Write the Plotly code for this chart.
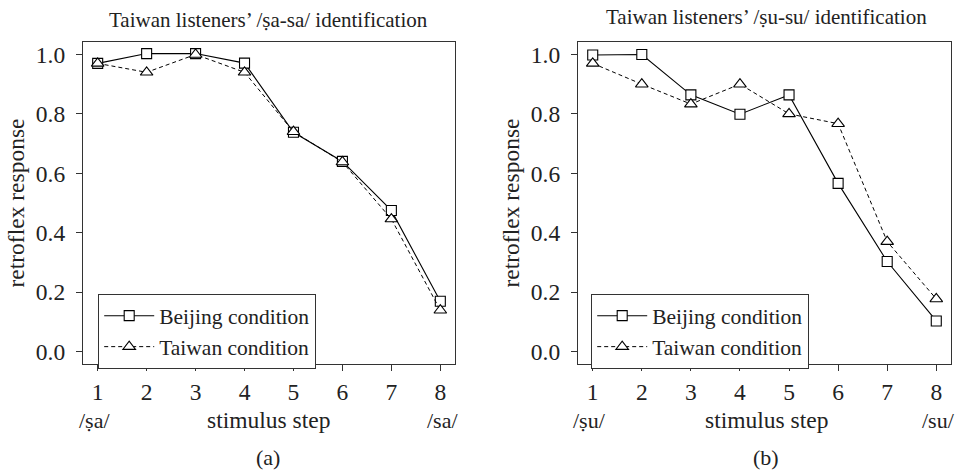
import plotly.graph_objects as go

steps = [1, 2, 3, 4, 5, 6, 7, 8]
tick_labels = ["1", "2", "3", "4", "5", "6", "7", "8"]

sa_beijing = [0.970, 1.003, 1.003, 0.971, 0.738, 0.640, 0.475, 0.169]
sa_taiwan = [0.970, 0.940, 1.000, 0.940, 0.740, 0.638, 0.446, 0.139]

su_beijing = [0.998, 1.000, 0.864, 0.799, 0.864, 0.566, 0.303, 0.103]
su_taiwan = [0.970, 0.900, 0.833, 0.900, 0.800, 0.767, 0.370, 0.177]

titles = ["Taiwan listeners’ /ṣa-sa/ identification",
          "Taiwan listeners’ /ṣu-su/ identification"]
end_labels = [("/ṣa/", "/sa/"), ("/ṣu/", "/su/")]
panel_labels = ["(a)", "(b)"]

FONT = "Liberation Serif"
W, H = 958, 470
INK = "#222"

fig = go.Figure()

def add_panel(idx, beijing, taiwan):
    xa = "x" if idx == 0 else "x2"
    ya = "y" if idx == 0 else "y2"
    leg = "legend" if idx == 0 else "legend2"
    fig.add_trace(go.Scatter(
        x=steps, y=beijing, xaxis=xa, yaxis=ya, name="Beijing condition",
        mode="lines+markers", legend=leg, legendgroup=f"b{idx}",
        line=dict(color="black", width=1.1),
        marker=dict(symbol="square", size=10, color="white",
                    line=dict(color="black", width=1.1))))
    fig.add_trace(go.Scatter(
        x=steps, y=taiwan, xaxis=xa, yaxis=ya, name="Taiwan condition",
        mode="lines+markers", legend=leg, legendgroup=f"t{idx}",
        line=dict(color="black", width=1.0, dash="4px,3px"),
        marker=dict(symbol="triangle-up", size=11, color="white",
                    line=dict(color="black", width=1.1))))

add_panel(0, sa_beijing, sa_taiwan)
add_panel(1, su_beijing, su_taiwan)

ytop = 1 - 42 / H
ybot = 1 - 364 / H
dom_left = [83 / W, 455 / W]
dom_right = [578 / W, 951 / W]

TICKFONT = dict(family=FONT, size=23.5, color=INK)

axis_common = dict(showline=True, linecolor="#333", linewidth=1.3, mirror=True,
                   ticks="outside", ticklen=6, tickwidth=1.1, tickcolor="#333",
                   showgrid=False, zeroline=False)

xaxis_common = dict(axis_common, range=[0.7, 8.3], tickvals=steps, ticktext=tick_labels,
                    ticklabelstandoff=1, tickfont=TICKFONT)
yaxis_common = dict(axis_common, range=[-0.042, 1.042], tickvals=[0, 0.2, 0.4, 0.6, 0.8, 1.0],
                    ticktext=["0.0", "0.2", "0.4", "0.6", "0.8", "1.0"],
                    ticklabelstandoff=6, tickfont=TICKFONT,
                    title=dict(text="retroflex response", standoff=4,
                               font=dict(family=FONT, size=23.5, color=INK)))

legend_common = dict(bgcolor="white", bordercolor="#333", borderwidth=1.2,
                     font=dict(family=FONT, size=21.5, color=INK),
                     xanchor="left", yanchor="top", itemwidth=50,
                     tracegroupgap=0, traceorder="grouped")

fig.update_layout(
    width=W, height=H,
    margin=dict(l=0, r=0, t=0, b=0),
    paper_bgcolor="white", plot_bgcolor="white",
    font=dict(family=FONT, color=INK),
    showlegend=True,
    xaxis=dict(xaxis_common, domain=dom_left, anchor="y"),
    yaxis=dict(yaxis_common, domain=[ybot, ytop], anchor="x"),
    xaxis2=dict(xaxis_common, domain=dom_right, anchor="y2"),
    yaxis2=dict(yaxis_common, domain=[ybot, ytop], anchor="x2"),
    legend=dict(legend_common, x=98 / W, y=1 - 294 / H),
    legend2=dict(legend_common, x=591 / W, y=1 - 294 / H),
)

annos = []
centers = [268, 766]
title_y = [20, 17]
for i, (xr, c) in enumerate([("x", centers[0]), ("x2", centers[1])]):
    annos.append(dict(text=titles[i], x=c / W, y=1 - title_y[i] / H, xref="paper", yref="paper",
                      xanchor="center", yanchor="middle", showarrow=False,
                      font=dict(family=FONT, size=21, color=INK)))
    annos.append(dict(text=end_labels[i][0], x=steps[0], y=1 - 420 / H, xref=xr, yref="paper",
                      xanchor="center", yanchor="middle", showarrow=False, xshift=-3,
                      font=dict(family=FONT, size=22, color=INK)))
    annos.append(dict(text=end_labels[i][1], x=steps[-1], y=1 - 420 / H, xref=xr, yref="paper",
                      xanchor="center", yanchor="middle", showarrow=False, xshift=2,
                      font=dict(family=FONT, size=22, color=INK)))
    annos.append(dict(text="stimulus step", x=c / W, y=1 - 420 / H, xref="paper", yref="paper",
                      xanchor="center", yanchor="middle", showarrow=False,
                      font=dict(family=FONT, size=23.5, color=INK)))
    annos.append(dict(text=panel_labels[i], x=c / W, y=1 - 457 / H, xref="paper", yref="paper",
                      xanchor="center", yanchor="middle", showarrow=False,
                      font=dict(family=FONT, size=22, color=INK)))
fig.update_layout(annotations=annos)

fig.write_html("out.html", config={"displayModeBar": False},
               post_script="document.body.style.margin='0';")
